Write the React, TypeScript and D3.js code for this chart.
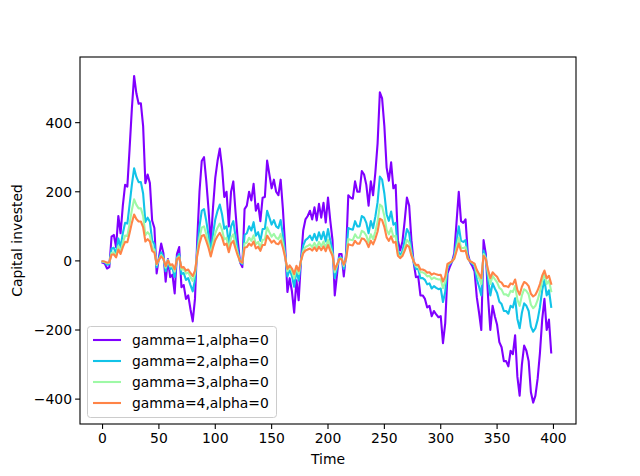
import React, { useEffect, useRef } from 'react';
import * as d3 from 'd3';

// time steps (every 2nd step of 0..398)
const times = d3.range(0, 400, 2);

// capital invested
const gamma1 = [
  -5, -8, -22, -18, 70, 75, 40, 130, 80, 160, 220, 215, 325, 440, 535, 485, 455, 456, 390, 225,
  250, 225, 117, 95, -36, 10, 50, 22, -60, 5, -47, -40, -94, 20, 40, -76, -70, -110, -100, -140,
  -175, -110, 60, 200, 289, 300, 232, 150, 50, 154, 240, 289, 325, 270, 185, 200, 100, 200, 230, 140,
  59, -5, -18, 150, 160, 200, 175, 223, 145, 165, 115, 183, 185, 290, 250, 210, 235, 200, 190, 235,
  150, 40, -90, -50, -88, -150, -56, -114, 0, 88, 120, 130, 145, 120, 155, 117, 165, 125, 168, 111,
  183, 117, 60, -100, -40, 20, 20, -45, 20, 190, 183, 180, 230, 200, 200, 260, 250, 220, 160, 230,
  190, 255, 340, 488, 470, 390, 270, 232, 285, 210, 220, 60, 30, 55, 115, 183, 160, 60, -5, -47,
  -45, -100, -100, -110, -135, -130, -160, -145, -155, -163, -160, -238, -180, -36, -18, -3, 22, 110, 200, 115,
  110, 120, 22, -4, -15, -30, -105, -150, -200, 60, 20, -105, -200, -130, -160, -185, -235, -250, -290, -290,
  -305, -260, -270, -215, -335, -390, -300, -245, -260, -290, -380, -410, -390, -340, -267, -170, -110, -200, -170, -265,
];
const gamma2 = [
  -2, -4, -11, -9, 35, 38, 20, 65, 40, 80, 110, 108, 163, 220, 268, 243, 228, 228, 195, 113,
  125, 113, 59, 48, -18, 5, 25, 11, -30, 3, -24, -20, -47, 10, 20, -38, -35, -55, -50, -70,
  -88, -55, 30, 100, 145, 150, 116, 75, 25, 77, 120, 145, 163, 135, 93, 100, 50, 100, 115, 70,
  30, -3, -9, 75, 80, 100, 88, 112, 73, 83, 58, 92, 93, 145, 125, 105, 118, 100, 95, 118,
  75, 20, -45, -25, -44, -75, -28, -57, 0, 44, 60, 65, 73, 60, 78, 59, 83, 63, 84, 56,
  92, 59, 30, -50, -20, 10, 10, -23, 10, 95, 92, 90, 115, 100, 100, 130, 125, 110, 80, 115,
  95, 128, 170, 244, 235, 195, 135, 116, 143, 105, 110, 30, 15, 28, 58, 92, 80, 30, -3, -24,
  -23, -50, -50, -55, -68, -65, -80, -73, -78, -82, -80, -119, -90, -18, -9, -2, 11, 55, 100, 58,
  55, 60, 11, -2, -8, -15, -53, -75, -100, 30, 10, -53, -100, -65, -80, -93, -118, -125, -145, -145,
  -153, -130, -135, -108, -168, -195, -150, -123, -130, -145, -190, -205, -195, -170, -134, -85, -55, -100, -85, -133,
];
const gamma3 = [
  -2, -3, -7, -6, 23, 25, 13, 43, 27, 53, 73, 72, 108, 147, 178, 162, 152, 152, 130, 75,
  83, 75, 39, 32, -12, 3, 17, 7, -20, 2, -16, -13, -31, 7, 13, -25, -23, -37, -33, -47,
  -58, -37, 20, 67, 96, 100, 77, 50, 17, 51, 80, 96, 108, 90, 62, 67, 33, 67, 77, 47,
  20, -2, -6, 50, 53, 67, 58, 74, 48, 55, 38, 61, 62, 97, 83, 70, 78, 67, 63, 78,
  50, 13, -30, -17, -29, -50, -19, -38, 0, 29, 40, 43, 48, 40, 52, 39, 55, 42, 56, 37,
  61, 39, 20, -33, -13, 7, 7, -15, 7, 63, 61, 60, 77, 67, 67, 87, 83, 73, 53, 77,
  63, 85, 113, 163, 157, 130, 90, 77, 95, 70, 73, 20, 10, 18, 38, 61, 53, 20, -2, -16,
  -15, -33, -33, -37, -45, -43, -53, -48, -52, -54, -53, -79, -60, -12, -6, -1, 7, 37, 67, 38,
  37, 40, 7, -1, -5, -10, -35, -50, -67, 20, 7, -35, -67, -43, -53, -62, -78, -83, -97, -97,
  -102, -87, -90, -72, -112, -130, -100, -82, -87, -97, -127, -137, -130, -113, -89, -57, -37, -67, -57, -88,
];
const gamma4 = [
  -1, -2, -5, -4, 18, 19, 10, 33, 20, 40, 55, 54, 81, 110, 134, 121, 114, 114, 98, 56,
  63, 56, 29, 24, -9, 3, 13, 6, -15, 1, -12, -10, -24, 5, 10, -19, -18, -28, -25, -35,
  -44, -28, 15, 50, 72, 75, 58, 38, 13, 39, 60, 72, 81, 68, 46, 50, 25, 50, 58, 35,
  15, -1, -5, 38, 40, 50, 44, 56, 36, 41, 29, 46, 46, 73, 63, 53, 59, 50, 48, 59,
  38, 10, -23, -13, -22, -38, -14, -29, 0, 22, 30, 33, 36, 30, 39, 29, 41, 31, 42, 28,
  46, 29, 15, -25, -10, 5, 5, -11, 5, 48, 46, 45, 58, 50, 50, 65, 63, 55, 40, 58,
  48, 64, 85, 122, 118, 98, 68, 58, 71, 53, 55, 15, 8, 14, 29, 46, 40, 15, -1, -12,
  -11, -25, -25, -28, -34, -33, -40, -36, -39, -41, -40, -60, -45, -9, -5, -1, 6, 28, 50, 29,
  28, 30, 6, -1, -4, -8, -26, -38, -50, 15, 5, -26, -50, -33, -40, -46, -59, -63, -73, -73,
  -76, -65, -68, -54, -84, -98, -75, -61, -65, -73, -95, -103, -98, -85, -67, -43, -28, -50, -43, -66,
];

const seriesNames = ['gamma=1,alpha=0', 'gamma=2,alpha=0', 'gamma=3,alpha=0', 'gamma=4,alpha=0'];
const seriesValues = [gamma1, gamma2, gamma3, gamma4];
const seriesColors = ['#8000ff', '#12c3e8', '#9ef9a6', '#ff8447'];

const xTicks = [0, 50, 100, 150, 200, 250, 300, 350, 400];
const yTicks = [-400, -200, 0, 200, 400];

export default function App() {
  const svgRef = useRef(null);

  useEffect(() => {
    const width = 640;
    const height = 476;
    const left = 80, right = 576, top = 57, bottom = 424;
    const font = 'DejaVu Sans, sans-serif';

    const svg = d3.select(svgRef.current);
    svg.selectAll('*').remove();

    const x = d3.scaleLinear().domain([-20, 420]).range([left, right]);
    const y = d3.scaleLinear().domain([-472, 590]).range([bottom, top]);

    svg.append('rect').attr('width', width).attr('height', height).attr('fill', 'white');

    svg.append('clipPath').attr('id', 'plotclip')
      .append('rect').attr('x', left).attr('y', top)
      .attr('width', right - left).attr('height', bottom - top);

    const line = d3.line()
      .x((d, i) => x(times[i]))
      .y(d => y(d));

    const plot = svg.append('g').attr('clip-path', 'url(#plotclip)');
    seriesValues.forEach((vals, k) => {
      plot.append('path')
        .datum(vals)
        .attr('d', line)
        .attr('fill', 'none')
        .attr('stroke', seriesColors[k])
        .attr('stroke-width', 2.1)
        .attr('stroke-linejoin', 'round')
        .attr('stroke-linecap', 'square');
    });

    // frame
    svg.append('rect')
      .attr('x', left).attr('y', top)
      .attr('width', right - left).attr('height', bottom - top)
      .attr('fill', 'none').attr('stroke', 'black').attr('stroke-width', 1.1);

    const fmt = v => (v < 0 ? '\u2212' + Math.abs(v) : String(v));

    // x axis
    const xa = svg.append('g');
    xTicks.forEach(t => {
      xa.append('line').attr('x1', x(t)).attr('x2', x(t))
        .attr('y1', bottom).attr('y2', bottom + 4.9)
        .attr('stroke', 'black').attr('stroke-width', 1.1);
      xa.append('text').attr('x', x(t)).attr('y', bottom + 19)
        .attr('text-anchor', 'middle').attr('font-family', font).attr('font-size', 13.9)
        .text(fmt(t));
    });
    svg.append('text').attr('x', (left + right) / 2).attr('y', 464)
      .attr('text-anchor', 'middle').attr('font-family', font).attr('font-size', 13.9)
      .text('Time');

    // y axis
    const ya = svg.append('g');
    yTicks.forEach(t => {
      ya.append('line').attr('x1', left - 4.9).attr('x2', left)
        .attr('y1', y(t)).attr('y2', y(t))
        .attr('stroke', 'black').attr('stroke-width', 1.1);
      ya.append('text').attr('x', left - 8).attr('y', y(t))
        .attr('dy', '0.35em')
        .attr('text-anchor', 'end').attr('font-family', font).attr('font-size', 13.9)
        .text(fmt(t));
    });
    svg.append('text')
      .attr('transform', `translate(22,${(top + bottom) / 2}) rotate(-90)`)
      .attr('text-anchor', 'middle').attr('font-family', font).attr('font-size', 13.9)
      .text('Capital invested');

    // legend
    const lg = svg.append('g');
    lg.append('rect')
      .attr('x', 87.5).attr('y', 326.5).attr('width', 189).attr('height', 91)
      .attr('rx', 3).attr('fill', 'white').attr('fill-opacity', 0.8)
      .attr('stroke', '#cccccc').attr('stroke-width', 1);
    seriesNames.forEach((name, k) => {
      const cy = 340 + k * 21;
      lg.append('line').attr('x1', 93).attr('x2', 121)
        .attr('y1', cy).attr('y2', cy)
        .attr('stroke', seriesColors[k]).attr('stroke-width', 2.1);
      lg.append('text').attr('x', 132).attr('y', cy).attr('dy', '0.35em')
        .attr('font-family', font).attr('font-size', 13.9)
        .text(name);
    });
  }, []);

  return (
    <div style={{ position: 'absolute', left: 0, top: 0 }}>
      <svg ref={svgRef} width={640} height={476}></svg>
    </div>
  );
}
